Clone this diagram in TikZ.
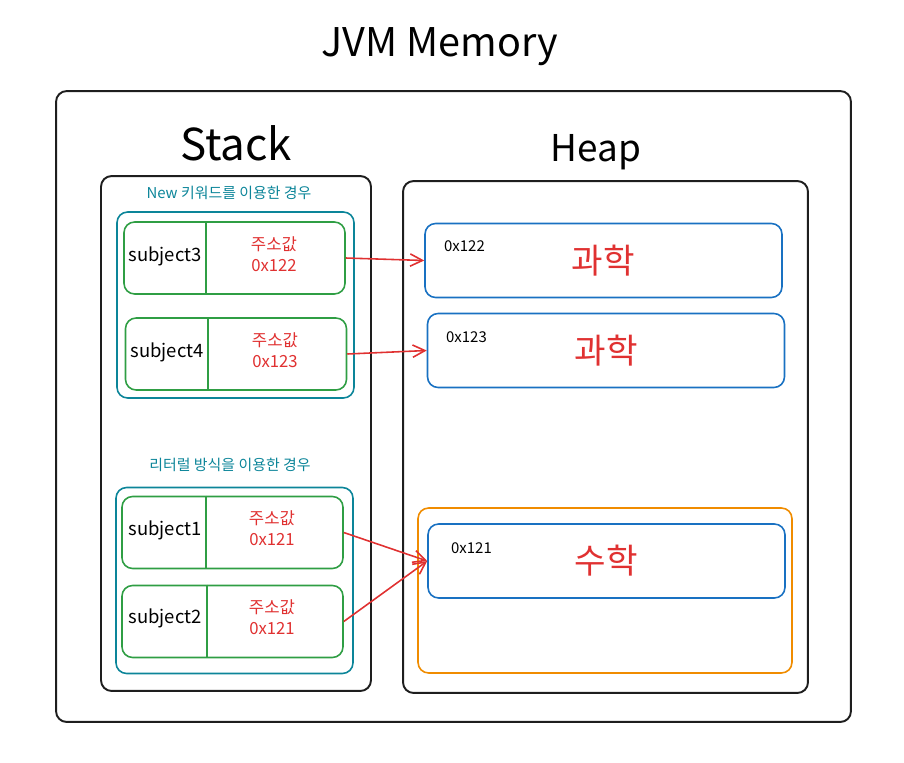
\documentclass[tikz,border=0pt]{standalone}
\usepackage{fontspec}
\setmainfont{Noto Sans CJK KR}
\usepackage{tikz}
\usetikzlibrary{arrows.meta,positioning}
\definecolor{boxblack}{RGB}{30,30,30}
\definecolor{tealgrp}{RGB}{12,133,153}
\definecolor{greencell}{RGB}{47,158,68}
\definecolor{bluekey}{RGB}{25,113,194}
\definecolor{redval}{RGB}{224,49,49}
\definecolor{orangepool}{RGB}{240,140,0}

\begin{document}
\begin{tikzpicture}[x=0.02cm, y=-0.02cm,
    area/.style={rectangle, draw=boxblack, line width=1.1pt, rounded corners=6pt},
    grp/.style={rectangle, draw=tealgrp, line width=0.9pt, rounded corners=6pt,
                minimum width=4.74cm, minimum height=3.72cm},
    cell/.style={rectangle, draw=greencell, line width=0.9pt, rounded corners=6pt,
                 minimum width=4.42cm, minimum height=1.44cm},
    obj/.style={rectangle, draw=bluekey, line width=0.9pt, rounded corners=6pt,
                minimum width=7.14cm, minimum height=1.48cm, text=redval,
                font=\fontsize{19.5}{22}\selectfont},
    nm/.style={font=\fontsize{10.5}{12}\selectfont},
    val/.style={align=center, text=redval, font=\fontsize{9.5}{12}\selectfont},
    addr/.style={anchor=west, font=\fontsize{8.5}{10}\selectfont},
    grpcap/.style={text=tealgrp, font=\fontsize{8.5}{10}\selectfont},
    ref/.style={-{Straight Barb[length=7pt, width=7pt]}, draw=redval, line width=0.9pt}]
\useasboundingbox (0,0) rectangle (904,762);
% titles
\node[font=\fontsize{22.5}{28}\selectfont] (title) at (440,47) {JVM Memory};
\node[area, minimum width=15.9cm, minimum height=12.62cm] (jvm) at (453.5,406.5) {};
\node[font=\fontsize{25}{28}\selectfont] (stacklbl) at (236,143) {Stack};
\node[font=\fontsize{21}{26}\selectfont] (heaplbl) at (596,152) {Heap};
% stack and heap areas
\node[area, minimum width=5.4cm, minimum height=10.3cm] (stack) at (236,433.5) {};
\node[area, minimum width=8.1cm, minimum height=10.24cm] (heap) at (605.5,437) {};
% new keyword group
\node[grpcap] (capnew) at (229,193) {\textit{New} 키워드를 이용한 경우};
\node[grp] (grpnew) at (235.5,305) {};
\node[cell] (s3) at (234.5,258) {};
\node[cell] (s4) at (236,354) {};
\draw[greencell, line width=0.9pt] (s3.north west) ++(83,0) -- ++(0,72);
\draw[greencell, line width=0.9pt] (s4.north west) ++(83,0) -- ++(0,72);
\node[nm] (n3) at (165,256) {subject3};
\node[nm] (n4) at (167,352) {subject4};
\node[val] (v3) at (274,254) {주소값\\0x122};
\node[val] (v4) at (275,350) {주소값\\0x123};
% literal group
\node[grpcap] (caplit) at (230,465) {리터럴 방식을 이용한 경우};
\node[grp] (grplit) at (234.5,580.5) {};
\node[cell] (s1) at (232.5,532.5) {};
\node[cell] (s2) at (232.5,621.5) {};
\draw[greencell, line width=0.9pt] (s1.north west) ++(85,0) -- ++(0,72);
\draw[greencell, line width=0.9pt] (s2.north west) ++(86,0) -- ++(0,72);
\node[nm] (n1) at (165,530) {subject1};
\node[nm] (n2) at (165,618) {subject2};
\node[val] (v1) at (272,528) {주소값\\0x121};
\node[val] (v2) at (272,617) {주소값\\0x121};
% heap objects
\node[obj] (k1) at (603.5,260.5) {과학};
\node[obj] (k2) at (606,350.5) {과학};
\node[rectangle, draw=orangepool, line width=0.9pt, rounded corners=6pt,
      minimum width=7.48cm, minimum height=3.3cm] (pool) at (605,590.5) {};
\node[obj] (m1) at (606.5,561) {수학};
\node[addr] (a1) at (438,246) {0x122};
\node[addr] (a2) at (440,337) {0x123};
\node[addr] (a3) at (445,548) {0x121};
% references
\draw[ref] (s3.east) -- (k1.west);
\draw[ref] (s4.east) -- (k2.west);
\draw[ref] (s1.east) -- (m1.west);
\draw[ref] (s2.east) -- (m1.west);
\end{tikzpicture}
\end{document}
